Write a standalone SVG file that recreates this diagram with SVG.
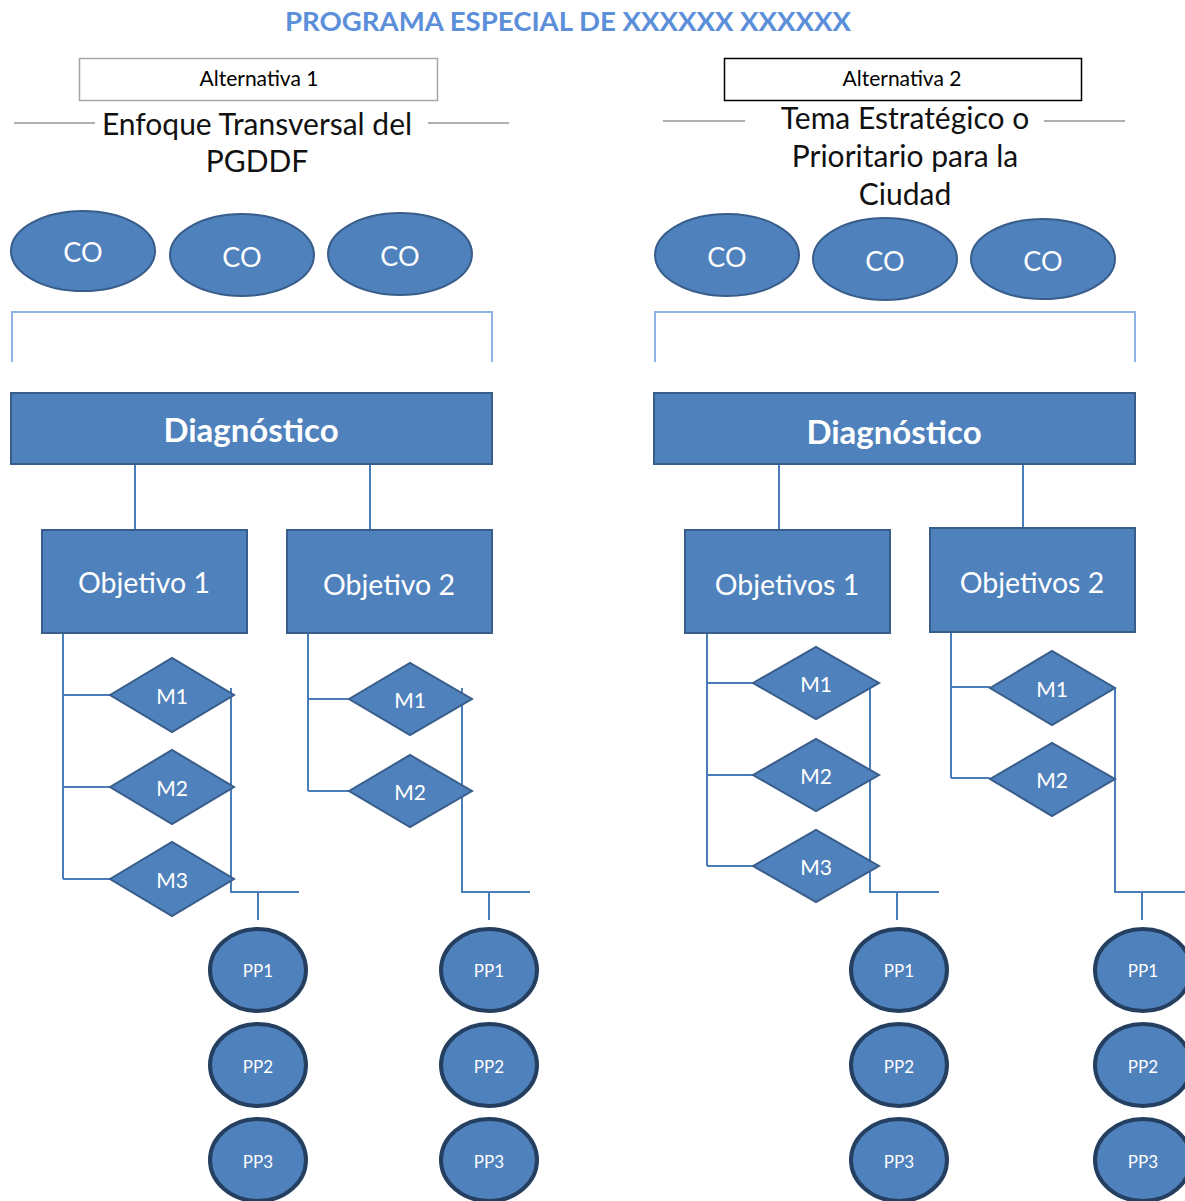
<svg xmlns="http://www.w3.org/2000/svg" width="1185" height="1201" viewBox="0 0 1185 1201">
<defs>
<style>
.t{font-family:Lato,"Open Sans","Liberation Sans",sans-serif;}
.title{font-weight:bold;font-size:26px;fill:#5b8fd9;}
.alt{font-size:21px;fill:#000;}
.head{font-size:30px;fill:#111;}
.shape{fill:#4f81bd;stroke:#385d8a;stroke-width:2;}
.pp{fill:#4f81bd;stroke:#243f60;stroke-width:4;}
.wt{fill:#fff;text-anchor:middle;dominant-baseline:central;}
.co{font-size:27px;}
.dg{font-size:33px;font-weight:bold;}
.ob{font-size:28.5px;}
.m{font-size:21px;}
.ppt{font-size:17px;}
.ln{fill:none;stroke:#4a7ebb;stroke-width:2;}
.br{fill:none;stroke:#8eb4e3;stroke-width:2;}
.gl{stroke:#b0b0b0;stroke-width:2;}
</style>
</defs>
<rect width="1185" height="1201" fill="#fff"/>
<g id="title"><text class="t title" x="568" y="31" text-anchor="middle" textLength="566" lengthAdjust="spacingAndGlyphs">PROGRAMA ESPECIAL DE XXXXXX XXXXXX</text></g>

<g id="alt1">
<rect x="79.5" y="58.5" width="358" height="42" fill="#fff" stroke="#a6a6a6" stroke-width="1.5"/>
<text class="t alt" x="259" y="86" text-anchor="middle">Alternativa 1</text>
</g>
<g id="alt1-heading">
<line class="gl" x1="14" y1="123" x2="95" y2="123"/>
<line class="gl" x1="428" y1="123" x2="509" y2="123"/>
<text class="t head" x="257" y="135" text-anchor="middle">Enfoque Transversal del</text>
<text class="t head" x="257" y="172" text-anchor="middle">PGDDF</text>
</g>

<g id="alt2">
<rect x="724.5" y="58.5" width="357" height="42" fill="#fff" stroke="#000" stroke-width="1.5"/>
<text class="t alt" x="902" y="86" text-anchor="middle">Alternativa 2</text>
</g>
<g id="alt2-heading">
<line class="gl" x1="663" y1="121" x2="745" y2="121"/>
<line class="gl" x1="1044" y1="121" x2="1125" y2="121"/>
<text class="t head" x="905" y="129" text-anchor="middle">Tema Estratégico o</text>
<text class="t head" x="905" y="167" text-anchor="middle">Prioritario para la</text>
<text class="t head" x="905" y="205" text-anchor="middle">Ciudad</text>
</g>

<g id="connectors">
<path class="br" d="M12,362 V312 H492 V362"/>
<path class="br" d="M655,362 V312 H1135 V362"/>
<line class="ln" x1="135" y1="464" x2="135" y2="567"/>
<line class="ln" x1="370" y1="464" x2="370" y2="530"/>
<line class="ln" x1="779" y1="446" x2="779" y2="545"/>
<line class="ln" x1="1023" y1="424" x2="1023" y2="528"/>
<path class="ln" d="M63,633 V879 M63,695 H110 M63,787 H110 M63,879 H110"/>
<path class="ln" d="M231,688 V892 H299 M258,892 V920"/>
<path class="ln" d="M308,633 V791 M308,699 H349 M308,791 H349"/>
<path class="ln" d="M462,688 V892 H530 M489,892 V920"/>
<path class="ln" d="M707,633 V866 M707,683 H753 M707,775 H753 M707,866 H753"/>
<path class="ln" d="M870,689 V892 H939 M897,892 V920"/>
<path class="ln" d="M951,632 V778 M951,687 H990 M951,778 H990"/>
<path class="ln" d="M1115,688 V892 H1185 M1142,892 V920"/>
</g>

<g id="co-l1"><ellipse class="shape" cx="83" cy="251" rx="72" ry="40"/><text class="t wt co" x="83" y="251">CO</text></g>
<g id="co-l2"><ellipse class="shape" cx="242" cy="255" rx="72" ry="41"/><text class="t wt co" x="242" y="256">CO</text></g>
<g id="co-l3"><ellipse class="shape" cx="400" cy="254" rx="72" ry="41"/><text class="t wt co" x="400" y="255">CO</text></g>
<g id="co-r1"><ellipse class="shape" cx="727" cy="255" rx="72" ry="41"/><text class="t wt co" x="727" y="256">CO</text></g>
<g id="co-r2"><ellipse class="shape" cx="885" cy="259" rx="72" ry="41"/><text class="t wt co" x="885" y="260">CO</text></g>
<g id="co-r3"><ellipse class="shape" cx="1043" cy="259" rx="72" ry="40"/><text class="t wt co" x="1043" y="260">CO</text></g>

<g id="diag-l"><rect class="shape" x="11" y="393" width="481" height="71"/><text class="t wt dg" x="251" y="429">Diagnóstico</text></g>
<g id="diag-r"><rect class="shape" x="654" y="393" width="481" height="71"/><text class="t wt dg" x="894" y="431">Diagnóstico</text></g>

<g id="obj-l1"><rect class="shape" x="42" y="530" width="205" height="103"/><text class="t wt ob" x="144" y="582">Objetivo 1</text></g>
<g id="obj-l2"><rect class="shape" x="287" y="530" width="205" height="103"/><text class="t wt ob" x="389" y="584">Objetivo 2</text></g>
<g id="obj-r1"><rect class="shape" x="685" y="530" width="205" height="103"/><text class="t wt ob" x="787" y="584">Objetivos 1</text></g>
<g id="obj-r2"><rect class="shape" x="930" y="528" width="205" height="104"/><text class="t wt ob" x="1032" y="582">Objetivos 2</text></g>

<g id="m-l1-1"><polygon class="shape" points="110,695 172,658 234,695 172,732"/><text class="t wt m" x="172" y="695">M1</text></g>
<g id="m-l1-2"><polygon class="shape" points="110,787 172,750 234,787 172,824"/><text class="t wt m" x="172" y="787">M2</text></g>
<g id="m-l1-3"><polygon class="shape" points="110,879 172,842 234,879 172,916"/><text class="t wt m" x="172" y="879">M3</text></g>
<g id="m-l2-1"><polygon class="shape" points="349,699 410,663 472,699 410,735"/><text class="t wt m" x="410" y="699">M1</text></g>
<g id="m-l2-2"><polygon class="shape" points="349,791 410,755 472,791 410,827"/><text class="t wt m" x="410" y="791">M2</text></g>
<g id="m-r1-1"><polygon class="shape" points="753,683 816,647 879,683 816,719"/><text class="t wt m" x="816" y="683">M1</text></g>
<g id="m-r1-2"><polygon class="shape" points="753,775 816,739 879,775 816,811"/><text class="t wt m" x="816" y="775">M2</text></g>
<g id="m-r1-3"><polygon class="shape" points="753,866 816,830 879,866 816,902"/><text class="t wt m" x="816" y="866">M3</text></g>
<g id="m-r2-1"><polygon class="shape" points="990,688 1052,651 1115,688 1052,725"/><text class="t wt m" x="1052" y="688">M1</text></g>
<g id="m-r2-2"><polygon class="shape" points="990,779 1052,743 1115,779 1052,816"/><text class="t wt m" x="1052" y="779">M2</text></g>

<g id="pp-a1"><ellipse class="pp" cx="258" cy="970" rx="48" ry="41"/><text class="t wt ppt" x="258" y="970">PP1</text></g>
<g id="pp-a2"><ellipse class="pp" cx="258" cy="1065" rx="48" ry="41"/><text class="t wt ppt" x="258" y="1066">PP2</text></g>
<g id="pp-a3"><ellipse class="pp" cx="258" cy="1160" rx="48" ry="41"/><text class="t wt ppt" x="258" y="1161">PP3</text></g>
<g id="pp-b1"><ellipse class="pp" cx="489" cy="970" rx="48" ry="41"/><text class="t wt ppt" x="489" y="970">PP1</text></g>
<g id="pp-b2"><ellipse class="pp" cx="489" cy="1065" rx="48" ry="41"/><text class="t wt ppt" x="489" y="1066">PP2</text></g>
<g id="pp-b3"><ellipse class="pp" cx="489" cy="1160" rx="48" ry="41"/><text class="t wt ppt" x="489" y="1161">PP3</text></g>
<g id="pp-c1"><ellipse class="pp" cx="899" cy="970" rx="48" ry="41"/><text class="t wt ppt" x="899" y="970">PP1</text></g>
<g id="pp-c2"><ellipse class="pp" cx="899" cy="1065" rx="48" ry="41"/><text class="t wt ppt" x="899" y="1066">PP2</text></g>
<g id="pp-c3"><ellipse class="pp" cx="899" cy="1160" rx="48" ry="41"/><text class="t wt ppt" x="899" y="1161">PP3</text></g>
<g id="pp-d1"><ellipse class="pp" cx="1143" cy="970" rx="48" ry="41"/><text class="t wt ppt" x="1143" y="970">PP1</text></g>
<g id="pp-d2"><ellipse class="pp" cx="1143" cy="1065" rx="48" ry="41"/><text class="t wt ppt" x="1143" y="1066">PP2</text></g>
<g id="pp-d3"><ellipse class="pp" cx="1143" cy="1160" rx="48" ry="41"/><text class="t wt ppt" x="1143" y="1161">PP3</text></g>
</svg>
